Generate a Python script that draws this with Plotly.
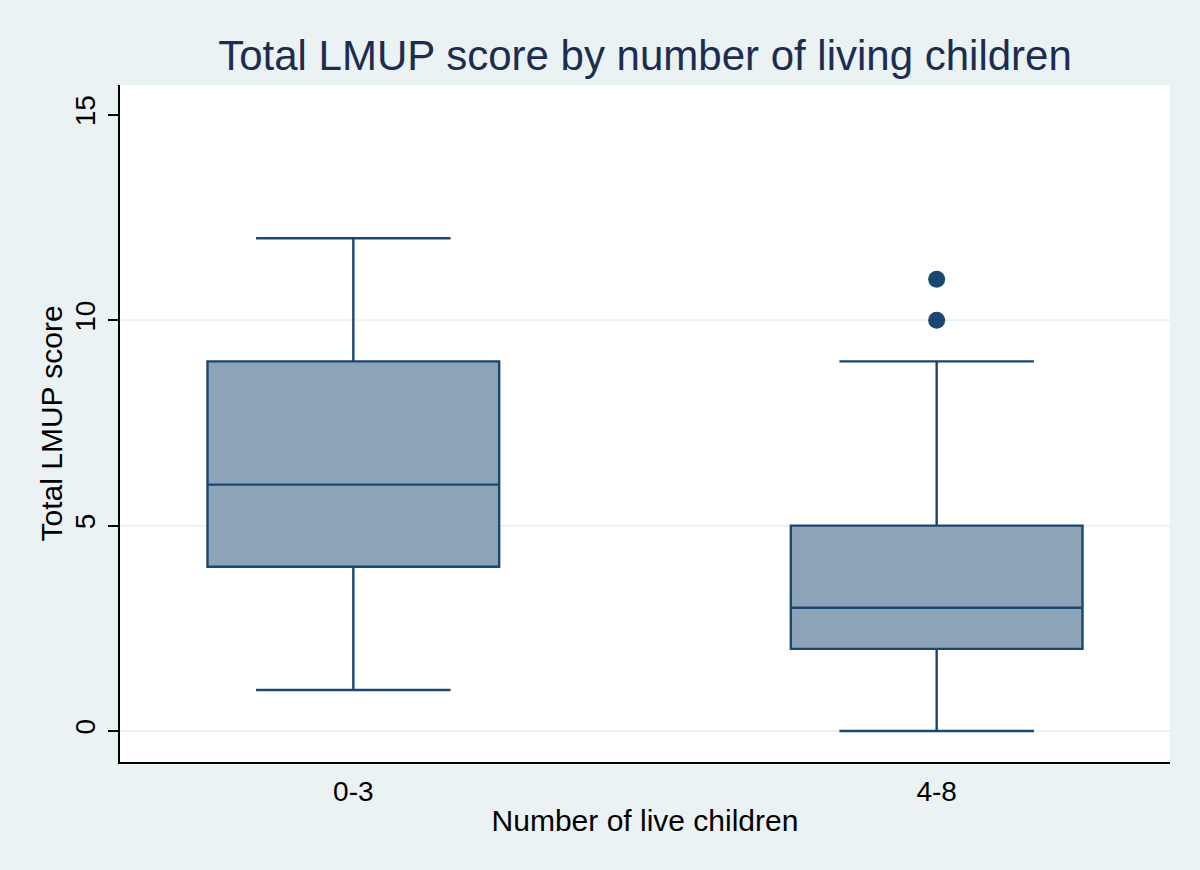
import plotly.graph_objects as go

categories = ["0-3", "4-8"]
q1 = [4, 2]
median = [6, 3]
q3 = [9, 5]
lower = [1, 0]
upper = [12, 9]
outlier_cat = ["4-8", "4-8"]
outlier_val = [10, 11]
y_ticks = [0, 5, 10, 15]
grid_vals = [0, 5, 10]

NAVY = "#1A476F"
FILL = "#8DA3B8"
BG = "#EAF2F3"
FONT = "Liberation Sans, Arial, sans-serif"

fig = go.Figure()
for i, c in enumerate(categories):
    fig.add_trace(go.Box(
        x=[c], q1=[q1[i]], median=[median[i]], q3=[q3[i]],
        lowerfence=[lower[i]], upperfence=[upper[i]],
        width=0.5, whiskerwidth=0.667,
        fillcolor=FILL, line=dict(color=NAVY, width=2.4),
        boxpoints=False, showlegend=False, hoverinfo="y",
    ))

fig.add_trace(go.Scatter(
    x=outlier_cat, y=outlier_val, mode="markers",
    marker=dict(color=NAVY, size=17, line=dict(width=0)),
    showlegend=False,
))

for g in grid_vals:
    fig.add_shape(type="line", xref="paper", x0=0, x1=1, yref="y", y0=g, y1=g,
                  line=dict(color=BG, width=2), layer="below")

fig.add_annotation(
    text="Total LMUP score", textangle=-90,
    xref="paper", yref="paper", x=0, y=0.5, xshift=-69,
    xanchor="center", yanchor="middle", showarrow=False,
    font=dict(size=30, color="black", family=FONT),
)

fig.update_layout(
    width=1200, height=870,
    paper_bgcolor=BG, plot_bgcolor="white",
    margin=dict(l=120, r=30, t=85, b=108),
    font=dict(family=FONT, color="black", size=28),
    title=dict(text="Total LMUP score by number of living children",
               x=0.5375, xanchor="center", y=0.937, yanchor="middle",
               font=dict(size=42, color="#1C2D50", family=FONT)),
    xaxis=dict(
        type="category", categoryorder="array", categoryarray=categories,
        range=[-0.4, 1.4], showgrid=False, zeroline=False,
        showline=True, linecolor="black", linewidth=2,
        ticks="outside", ticklen=3, tickcolor="rgba(0,0,0,0)",
        tickfont=dict(size=28),
        title=dict(text="Number of live children", font=dict(size=30), standoff=4),
    ),
    yaxis=dict(
        range=[-0.755, 15.73], tickvals=y_ticks, ticktext=[str(v) for v in y_ticks],
        showgrid=False, zeroline=False,
        showline=True, linecolor="black", linewidth=2,
        ticks="outside", ticklen=10, tickcolor="black", tickwidth=2,
        tickangle=-90, tickfont=dict(size=28), ticklabelstandoff=2,
    ),
)

fig.write_html(
    "out.html",
    config={"displayModeBar": False},
    post_script="document.body.style.margin='0';document.body.style.background='%s';" % BG,
)
